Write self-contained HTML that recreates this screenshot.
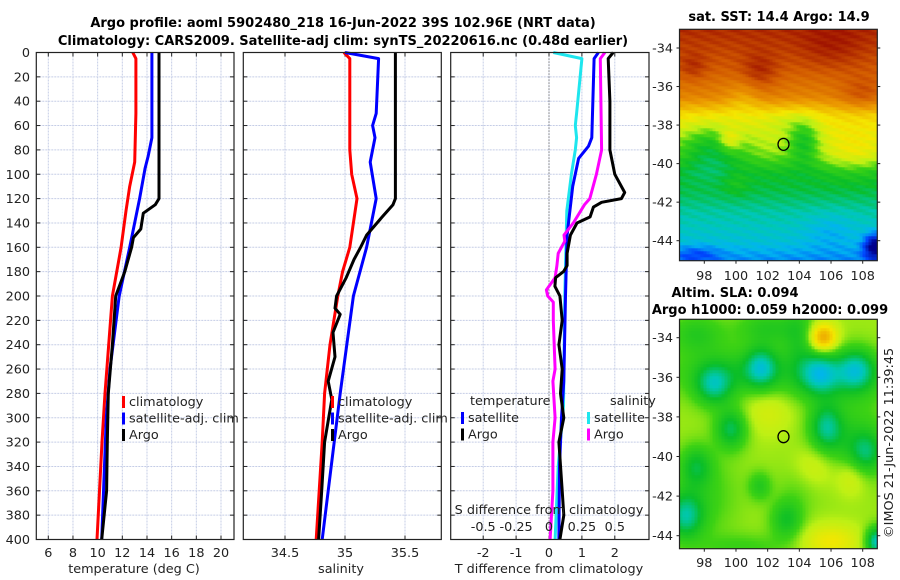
<!DOCTYPE html>
<html><head><meta charset="utf-8"><style>
html,body{margin:0;padding:0;background:#fff}
svg{display:block;font-family:"DejaVu Sans","Liberation Sans",sans-serif}
.t{font-size:12.8px;fill:#222}
.ti{font-size:13px;font-weight:bold;fill:#000}
</style></head><body>
<svg id="fig" width="900" height="580" viewBox="0 0 900 580">
<text class="ti" x="343" y="27" text-anchor="middle">Argo profile: aoml 5902480_218 16-Jun-2022 39S 102.96E (NRT data)</text>
<text class="ti" x="343" y="45" text-anchor="middle">Climatology: CARS2009. Satellite-adj clim: synTS_20220616.nc (0.48d earlier)</text>
<g id="panels"></g>
<text class="ti" x="779" y="21" text-anchor="middle">sat. SST: 14.4 Argo: 14.9</text>
<text class="ti" x="735" y="297" text-anchor="middle">Altim. SLA: 0.094</text>
<text class="ti" x="770" y="314" text-anchor="middle">Argo h1000: 0.059 h2000: 0.099</text>
<text class="t" transform="translate(893,443) rotate(-90)" text-anchor="middle">©IMOS 21-Jun-2022 11:39:45</text>
</svg>
<script>
// ---- data ----
const depthTicks=[0,20,40,60,80,100,120,140,160,180,200,220,240,260,280,300,320,340,360,380,400];
const tempTicks=[6,8,10,12,14,16,18,20];
const salTicks=[34.5,35,35.5];
const tdTicks=[-2,-1,0,1,2];
const sdTicks=[-0.5,-0.25,0,0.25,0.5];
const sdTickLabels=["-0.5","-0.25","0","0.25","0.5"];
const tClimDepth=[0,5,50,90,110,130,160,200,240,280,320,360,400];
const tClim=[12.85,13.1,13.1,13.0,12.6,12.3,11.9,11.2,10.9,10.6,10.35,10.15,9.95];
const tSatDepth=[0,70,85,95,120,160,200,260,300,400];
const tSat=[14.4,14.4,14.1,13.85,13.4,12.6,11.75,11.0,10.7,10.33];
const tArgoDepth=[0,120,125,132,145,152,160,180,200,210,240,280,320,360,400];
const tArgo=[14.97,14.97,14.67,13.7,13.5,12.9,12.75,12.2,11.46,11.4,11.2,10.86,10.78,10.73,10.33];
const sClimDepth=[0,5,80,100,120,160,180,200,240,280,320,400];
const sClim=[34.99,35.04,35.04,35.056,35.1,35.04,34.98,34.94,34.875,34.83,34.81,34.76];
const sSatDepth=[0,5,50,60,70,90,120,160,200,280,400];
const sSat=[35.0,35.28,35.26,35.23,35.25,35.21,35.26,35.18,35.07,34.96,34.81];
const sArgoDepth=[0,120,125,135,150,160,170,185,200,210,215,230,250,270,285,320,360,400];
const sArgo=[35.42,35.42,35.40,35.31,35.18,35.13,35.075,35.01,34.93,34.917,34.96,34.9,34.917,34.86,34.89,34.83,34.806,34.78];
const dTSatDepth=[0,5,70,77,87,110,150,200,270,300,340,400];
const dTSat=[1.5,1.37,1.3,1.2,0.9,0.72,0.55,0.5,0.45,0.38,0.32,0.3];
const dTArgoDepth=[0,5,40,80,100,115,120,123,127,135,140,150,165,175,180,185,192,200,220,240,260,280,300,320,360,380,400];
const dTArgo=[1.95,1.8,1.85,1.85,2.0,2.3,2.2,1.6,1.35,1.25,0.85,0.65,0.55,0.55,0.44,0.2,0.18,0.33,0.4,0.3,0.4,0.35,0.45,0.3,0.4,0.45,0.33];
const dSSatDepth=[0,5,50,60,70,80,100,130,200,290,340,400];
const dSSat=[0.033,0.25,0.21,0.2,0.21,0.2,0.17,0.135,0.12,0.11,0.07,0.046];
const dSArgoDepth=[0,5,80,100,120,125,140,150,155,165,175,185,195,200,205,220,260,270,300,320,360,400];
const dSArgo=[0.425,0.39,0.4,0.36,0.31,0.27,0.185,0.114,0.12,0.07,0.06,0.046,-0.02,-0.01,0.033,0.033,0.046,0.03,0.046,0.03,0.03,0.008];
const mapLatTicks=[-34,-36,-38,-40,-42,-44];
const mapLonTicks=[98,100,102,104,106,108];

// ---- helpers ----
const NS="http://www.w3.org/2000/svg";
const root=document.getElementById('panels');
function mk(tag,at,parent){const e=document.createElementNS(NS,tag);for(const k in at)e.setAttribute(k,at[k]);(parent||root).appendChild(e);return e;}
const y=d=>52.5+d*1.2175;
const xT=t=>48.3+(t-6)*12.336;
const xS=s=>285+(s-34.5)*120;
const xTd=t=>549+t*32.9;
const xSd=s=>549+s*131.6;
const TOP=52.5,BOT=539.5;

function panel(name,x0,x1,vticks,vx){
  const g=mk('g',{});
  
  
  depthTicks.forEach(d=>{if(d>0&&d<400){const l=mk('line',{x1:x0,x2:x1,y1:y(d),y2:y(d),stroke:'#c5cde6','stroke-width':1,'stroke-dasharray':'2,1'},g);
    }
    mk('line',{x1:x0,x2:x0+4,y1:y(d),y2:y(d),stroke:'#222'},g);mk('line',{x1:x1-4,x2:x1,y1:y(d),y2:y(d),stroke:'#222'},g);});
  vticks.forEach(v=>{const X=vx(v);const l=mk('line',{x1:X,x2:X,y1:TOP,y2:BOT,stroke:'#c5cde6','stroke-width':1,'stroke-dasharray':'2,1'},g);
    
    mk('line',{x1:X,x2:X,y1:BOT-4,y2:BOT,stroke:'#222'},g);mk('line',{x1:X,x2:X,y1:TOP,y2:TOP+4,stroke:'#222'},g);});
  return g;
}
function frame(g,x0,x1){const r=mk('rect',{x:x0,y:TOP,width:x1-x0,height:BOT-TOP,fill:'none',stroke:'#222','stroke-width':1.2},g);
  }
function line(g,ds,vs,fx,color,name,w){
  const pts=ds.map((d,i)=>fx(vs[i]).toFixed(1)+','+y(d).toFixed(1)).join(' ');
  const p=mk('polyline',{points:pts,fill:'none',stroke:color,'stroke-width':w||3,'stroke-linejoin':'round'},g);
  
}
function txt(g,x,yy,s,anchor,name,cls){const t=mk('text',{x:x,y:yy,'text-anchor':anchor||'start',class:cls||'t'},g);t.textContent=s;
  return t;}
function legend(g,x,yy,items){items.forEach((it,i)=>{const r=mk('rect',{x:x,y:yy+i*16.5-10,width:3,height:12,fill:it[1]},g);
  
  txt(g,x+7,yy+i*16.5,it[0],'start','legend-entry');});}

// panel 1 temperature
let g1=panel('temperature-panel',36.3,234,tempTicks,xT);
line(g1,tClimDepth,tClim,xT,'#f00','climatology-temp-line');
line(g1,tSatDepth,tSat,xT,'#00f','satellite-temp-line');
line(g1,tArgoDepth,tArgo,xT,'#000','argo-temp-line');
frame(g1,36.3,234);
depthTicks.forEach(d=>txt(g1,30,y(d)+4.5,String(d),'end','y-tick-label'));
tempTicks.forEach(t=>txt(g1,xT(t),557,String(t),'middle','x-tick-label'));
txt(g1,134,573,'temperature (deg C)','middle','x-axis-title');
legend(g1,122,406,[['climatology','#f00'],['satellite-adj. clim','#00f'],['Argo','#000']]);

// panel 2 salinity
let g2=panel('salinity-panel',243.3,441.3,salTicks,xS);
line(g2,sClimDepth,sClim,xS,'#f00','climatology-sal-line');
line(g2,sSatDepth,sSat,xS,'#00f','satellite-sal-line');
line(g2,sArgoDepth,sArgo,xS,'#000','argo-sal-line');
frame(g2,243.3,441.3);
salTicks.forEach(s=>txt(g2,xS(s),557,String(s),'middle','x-tick-label'));
txt(g2,341,573,'salinity','middle','x-axis-title');
legend(g2,331,406,[['climatology','#f00'],['satellite-adj. clim','#00f'],['Argo','#000']]);

// panel 3 differences
let g3=panel('difference-panel',450.7,649,tdTicks,xTd);
const z=mk('line',{x1:549,x2:549,y1:TOP,y2:BOT,stroke:'#444','stroke-dasharray':'1,2'},g3);

line(g3,dSSatDepth,dSSat,xSd,'#1ee6ee','satellite-sal-diff-line');
line(g3,dTSatDepth,dTSat,xTd,'#00f','satellite-temp-diff-line');
line(g3,dSArgoDepth,dSArgo,xSd,'#f0f','argo-sal-diff-line');
line(g3,dTArgoDepth,dTArgo,xTd,'#000','argo-temp-diff-line');
frame(g3,450.7,649);
txt(g3,470,405,'temperature','start','legend-title');
txt(g3,610,405,'salinity','start','legend-title');
legend(g3,461,422,[['satellite','#00f'],['Argo','#000']]);
legend(g3,587,422,[['satellite','#1ee6ee'],['Argo','#f0f']]);
txt(g3,549,514,'S difference from climatology','middle','s-axis-title');
sdTicks.forEach((s,i)=>txt(g3,xSd(s),531,sdTickLabels[i],'middle','s-tick-label'));
tdTicks.forEach(t=>txt(g3,xTd(t),557,String(t),'middle','x-tick-label'));
txt(g3,549,573,'T difference from climatology','middle','x-axis-title');

// ---- maps ----
const stops=[[0.1,[0,0,140]],[0.22,[0,70,255]],[0.3,[0,180,240]],[0.36,[0,200,180]],[0.44,[10,190,40]],[0.52,[60,210,20]],[0.58,[190,240,20]],[0.66,[245,230,0]],[0.78,[235,150,0]],[0.9,[210,90,0]],[1.0,[160,20,0]]];
function cmap(v){if(v<=stops[0][0])return stops[0][1];for(let i=1;i<stops.length;i++){if(v<=stops[i][0]){const a=stops[i-1],b=stops[i],f=(v-a[0])/(b[0]-a[0]);return a[1].map((c,k)=>Math.round(c+(b[1][k]-c)*f));}}return stops[stops.length-1][1];}
const gs=(lo,la,cx,cy,sx,sy,a)=>a*Math.exp(-(((lo-cx)/sx)**2+((la-cy)/sy)**2)/2);
function interp(xs,ys,x){if(x>=xs[0])return ys[0];for(let i=1;i<xs.length;i++)if(x>=xs[i]){const f=(x-xs[i-1])/(xs[i]-xs[i-1]);return ys[i-1]+(ys[i]-ys[i-1])*f;}return ys[ys.length-1];}
const sstLat=[-33,-35,-36.5,-37.5,-38.5,-39.5,-40.5,-41.5,-42.5,-44,-45];
const sstBase=[0.97,0.9,0.82,0.68,0.62,0.56,0.45,0.42,0.37,0.33,0.27];
function sst(lo,la){let v=interp(sstLat,sstBase,la);
  v+=gs(lo,la,98.5,-39.2,1.5,0.9,-0.14)+gs(lo,la,99.6,-38.8,0.5,0.4,0.12)+gs(lo,la,104.3,-38.8,0.7,0.8,-0.14)+gs(lo,la,107.5,-39.5,1.5,0.8,0.08)
   +gs(lo,la,101.5,-35.3,0.8,0.7,0.08)+gs(lo,la,108,-36.4,1,0.6,0.08)+gs(lo,la,106,-34,1.5,0.8,0.05)+gs(lo,la,97.3,-35,0.6,0.5,0.06)
   +gs(lo,la,108.8,-44.3,0.5,0.45,-0.25)+gs(lo,la,106,-43.5,1.2,0.7,-0.04)+gs(lo,la,97.5,-44.7,1,0.3,-0.07)+gs(lo,la,100,-41,0.6,0.5,0.04)
   +gs(lo,la,100.5,-36.5,0.8,0.6,-0.06)+gs(lo,la,103,-37.8,1.2,0.5,-0.05);
  return v+0.015*Math.sin(lo*37+la*53);}
function sla(lo,la){let v=0.565;
  const b=[[101.6,-35.5,0.7,0.7,-0.16],[98.6,-36.4,0.8,0.7,-0.15],[105.3,-35.8,0.8,0.7,-0.16],[107.6,-35.6,0.8,0.7,-0.16],[99.7,-38.6,0.7,0.7,-0.15],[105.7,-38.5,0.7,0.8,-0.15],
   [108.2,-39.8,0.7,0.7,-0.11],[97.5,-40.5,0.7,0.7,-0.11],[96.8,-43,0.8,0.8,-0.17],[108.9,-44.3,0.5,0.5,-0.22],[103.2,-43.2,0.7,0.7,-0.11],[101.5,-41.5,0.5,0.5,-0.08],
   [100,-35.8,2.8,0.9,-0.09],[106.5,-36,2.3,0.9,-0.09],[102,-33.5,1.4,0.6,-0.08],[107.3,-39.3,1.7,1.3,-0.08],[97.5,-33.8,1.2,0.7,-0.08],[104,-34,0.7,1.3,-0.07],
   [98,-42,1.5,1.5,-0.05],[104,-41.5,1,1,-0.03],[100.5,-44.6,2,0.5,-0.05],
   [105.5,-34,0.6,0.5,0.2],[106,-44.3,1.3,0.6,0.09],[105,-40.5,1,0.8,0.06],[102,-37.6,1.2,0.9,0.05],[107.3,-41,0.7,0.7,0.06]];
  b.forEach(q=>v+=gs(lo,la,...q));return v;}
function drawMap(name,y0,y1,latTop,degPx,latRef,fn,lonLblY){
  const x0=679.5,x1=877.3;
  const g=mk('g',{});
  
  const lonPx=15.84,lonRef=704.3;
  const cell=3;
  for(let yy=y0;yy<y1;yy+=cell){for(let xx=x0;xx<x1;xx+=cell){
    const lo=98+(xx+cell/2-lonRef)/lonPx, la=latRef-(yy+cell/2-latTop)/degPx;
    const c=cmap(fn(lo,la));
    mk('rect',{x:xx,y:yy,width:Math.min(cell,x1-xx)+0.3,height:Math.min(cell,y1-yy)+0.3,fill:'rgb('+c.join(',')+')'},g);}}
  const fr=mk('rect',{x:x0,y:y0,width:x1-x0,height:y1-y0,fill:'none',stroke:'#222','stroke-width':1.2},g);
  
  mapLatTicks.forEach(la=>{const Y=latTop+(latRef-la)*degPx;txt(g,673,Y+4.5,String(la),'end','lat-tick-label');
    mk('line',{x1:x0-3,x2:x0,y1:Y,y2:Y,stroke:'#222'},g);mk('line',{x1:x1,x2:x1+3,y1:Y,y2:Y,stroke:'#222'},g);});
  mapLonTicks.forEach(lo=>{const X=lonRef+(lo-98)*lonPx;txt(g,X,lonLblY,String(lo),'middle','lon-tick-label');
    mk('line',{x1:X,x2:X,y1:y1,y2:y1+3,stroke:'#222'},g);});
  const cx=lonRef+(103-98)*lonPx, cy=latTop+(latRef+39)*degPx;
  const c=mk('ellipse',{cx:cx,cy:cy,rx:5.5,ry:6,fill:'none',stroke:'#000','stroke-width':1.3},g);
  
}
drawMap('sst-map',29.3,260.7,48,19.27,-34,sst,280);
drawMap('sla-map',319.3,548.7,337.7,19.8,-34,sla,567);
</script>
</body></html>
